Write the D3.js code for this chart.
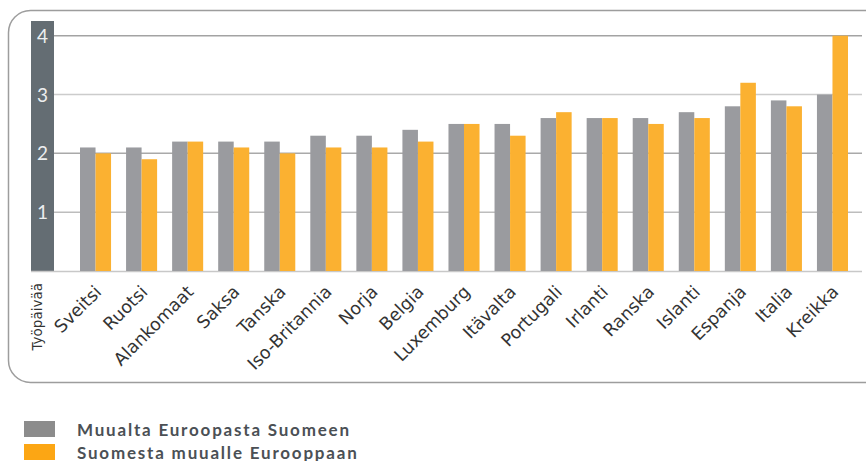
<!DOCTYPE html>
<html>
<head>
<meta charset="utf-8">
<script src="https://d3js.org/d3.v7.min.js"></script>
<style>
  body { margin: 0; background: #fff; }
  text { font-family: "Lato", "Open Sans", sans-serif; }
</style>
</head>
<body>
<div id="chart"></div>
<script>
var countries = ["Sveitsi","Ruotsi","Alankomaat","Saksa","Tanska","Iso-Britannia","Norja","Belgia",
  "Luxemburg","Itävalta","Portugali","Irlanti","Ranska","Islanti","Espanja","Italia","Kreikka"];
var toFinland = [2.1,2.1,2.2,2.2,2.2,2.3,2.3,2.4,2.5,2.5,2.6,2.6,2.6,2.7,2.8,2.9,3.0];
var fromFinland = [2.0,1.9,2.2,2.1,2.0,2.1,2.1,2.2,2.5,2.3,2.7,2.6,2.5,2.6,3.2,2.8,4.0];
var seriesNames = ["Muualta Euroopasta Suomeen","Suomesta muualle Eurooppaan"];
var yTicks = [1,2,3,4];
var yLabel = "Työpäivää";

var width = 866, height = 461;
var colors = ["#9a9b9f", "#fbb131"];

var svg = d3.select("#chart").append("svg")
  .attr("width", width)
  .attr("height", height);

// outer frame
svg.append("rect")
  .attr("x", 8.5).attr("y", 10.5)
  .attr("width", 880).attr("height", 372)
  .attr("rx", 22).attr("ry", 22)
  .style("fill", "none")
  .style("stroke", "#9d9d9d")
  .style("stroke-width", 1.5);

var yscale = d3.scaleLinear().domain([0, 4.25]).range([271, 21]);

var xscale = d3.scaleBand().domain(countries)
  .range([72.5, 855.5])
  .paddingInner(0.326)
  .paddingOuter(0.163);

var inner = d3.scaleBand().domain([0, 1])
  .range([0, xscale.bandwidth()]);

// dark panel behind y labels
svg.append("rect")
  .attr("x", 31).attr("y", yscale(4.25))
  .attr("width", 23).attr("height", yscale(0) - yscale(4.25))
  .style("fill", "#646d73");

// grid lines
var gridColors = {1: "#bdbdbd", 2: "#a9a9a9", 3: "#cccccc", 4: "#a3a3a3"};
svg.selectAll(".grid")
  .data(yTicks).enter()
  .append("line")
  .attr("class", "grid")
  .attr("x1", 54).attr("x2", 862)
  .attr("y1", function(d){ return yscale(d) })
  .attr("y2", function(d){ return yscale(d) })
  .style("stroke", function(d){ return gridColors[d] })
  .style("stroke-width", 1.5);

svg.append("line")
  .attr("x1", 31).attr("x2", 862)
  .attr("y1", yscale(0) + 0.5).attr("y2", yscale(0) + 0.5)
  .style("stroke", "#c8c8c8")
  .style("stroke-width", 1.5);

// y tick labels
svg.selectAll(".ylab")
  .data(yTicks).enter()
  .append("text")
  .attr("class", "ylab")
  .attr("x", 42.5)
  .attr("y", function(d){ return yscale(d) + 7 })
  .style("text-anchor", "middle")
  .style("font-size", "19px")
  .style("fill", "#eceeef")
  .text(function(d){ return d });

// bars
var groups = svg.selectAll(".grp")
  .data(countries).enter()
  .append("g")
  .attr("class", "grp")
  .attr("transform", function(d){ return "translate(" + xscale(d) + ",0)" });

groups.selectAll("rect")
  .data(function(d, i){ return [toFinland[i], fromFinland[i]] })
  .enter().append("rect")
  .attr("x", function(d, j){ return inner(j) })
  .attr("width", inner.bandwidth())
  .attr("y", function(d){ return yscale(d) })
  .attr("height", function(d){ return yscale(0) - yscale(d) })
  .style("fill", function(d, j){ return colors[j] });

// x labels
svg.selectAll(".xlab")
  .data(countries).enter()
  .append("text")
  .attr("class", "xlab")
  .attr("transform", function(d){
    return "translate(" + (xscale(d) + xscale.bandwidth() / 2 + 7) + ",293) rotate(-45)";
  })
  .style("text-anchor", "end")
  .style("font-family", "'DejaVu Sans', sans-serif")
  .style("font-size", "17.5px")
  .style("fill", "#333333")
  .text(function(d){ return d });

// y axis title
svg.append("text")
  .attr("transform", "translate(42,283) rotate(-90)")
  .style("text-anchor", "end")
  .style("font-family", "'DejaVu Sans', sans-serif")
  .style("font-size", "13.5px")
  .style("fill", "#333333")
  .text(yLabel);

// legend
var legend = svg.selectAll(".leg")
  .data(seriesNames).enter()
  .append("g")
  .attr("class", "leg")
  .attr("transform", function(d, i){ return "translate(24," + (421 + i * 23) + ")" });

legend.append("rect")
  .attr("width", 31).attr("height", 16)
  .style("fill", function(d, i){ return i == 0 ? "#8c8c8c" : "#fca614" });

legend.append("text")
  .attr("x", 53).attr("y", 14.5)
  .style("font-size", "17px")
  .style("font-weight", "bold")
  .style("letter-spacing", "1.8px")
  .style("fill", "#4b5055")
  .text(function(d){ return d });
</script>
</body>
</html>
